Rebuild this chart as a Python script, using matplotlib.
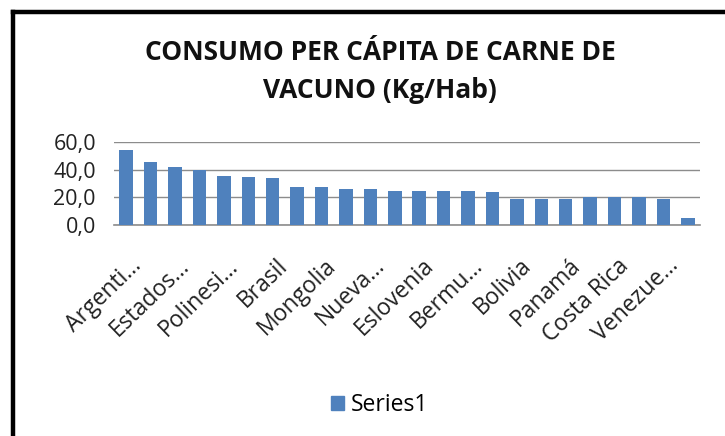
import matplotlib
matplotlib.use("Agg")
import matplotlib.pyplot as plt
from matplotlib.lines import Line2D
from matplotlib.patches import Patch
import matplotlib.transforms as mtransforms

# values (Kg per inhabitant)
consumo = [54.0, 45.5, 42.0, 40.0, 35.5, 34.6, 33.6, 27.7, 27.0, 26.0, 26.0, 24.4,
           24.4, 24.4, 24.4, 23.4, 18.8, 18.8, 18.8, 20.2, 20.2, 20.2, 18.8, 4.9]
# only every second category label is shown in the chart (truncated as in Excel)
shown_labels = ["Argenti…", "Estados…", "Polinesi…", "Brasil", "Mongolia", "Nueva…",
                "Eslovenia", "Bermu…", "Bolivia", "Panamá", "Costa Rica", "Venezue…"]
y_ticks = [0, 20, 40, 60]
titulo_1 = "CONSUMO PER CÁPITA DE CARNE DE"
titulo_2 = "VACUNO (Kg/Hab)"
serie = "Series1"

plt.rcParams['font.family'] = ['Open Sans', 'DejaVu Sans']
bar_color = "#4F81BD"

fig = plt.figure(figsize=(7.25, 4.36), dpi=100)
fig.patch.set_facecolor("white")
ax = fig.add_axes([114/725, 1 - 224.7/436, (700-114)/725, (224.7-142)/436])

x = list(range(len(consumo)))
ax.bar(x, consumo, width=0.55, color=bar_color, zorder=3)
ax.set_xlim(-0.5, len(consumo) - 0.5)
ax.set_ylim(0, 60)
ax.set_yticks(y_ticks)
ax.set_yticklabels([f"{v:.1f}".replace(".", ",") for v in y_ticks], fontsize=15.5, color="#222222")
ax.yaxis.grid(True, color="#8c8c8c", linewidth=1.0, zorder=0)
ax.tick_params(axis="y", length=0, pad=13)
ax.tick_params(axis="x", length=0, pad=21)
for side in ["top", "right", "left"]:
    ax.spines[side].set_visible(False)
ax.spines["bottom"].set_color("#8c8c8c")
ax.spines["bottom"].set_linewidth(1.2)

ax.set_xticks(x[::2])
ax.set_xticklabels(shown_labels, rotation=44, ha="right", rotation_mode="anchor",
                   fontsize=16.5, color="#222222")
offset = mtransforms.ScaledTranslation(3/100, 0, fig.dpi_scale_trans)
for lbl in ax.get_xticklabels():
    lbl.set_transform(lbl.get_transform() + offset)

fig.text(380/725, 1 - 60/436, titulo_1, ha="center", va="baseline", fontsize=19,
         fontweight="bold", color="#111111")
fig.text(380/725, 1 - 98/436, titulo_2, ha="center", va="baseline", fontsize=19,
         fontweight="bold", color="#111111")

fig.legend(handles=[Patch(color=bar_color, label=serie)], loc="center",
           bbox_to_anchor=(380/725, 1 - 405/436), frameon=False, fontsize=16.5,
           handlelength=0.57, handleheight=0.57, handletextpad=0.3)

# black frame on the left and top edges
fig.add_artist(Line2D([12.5/725, 12.5/725], [0, 1 - 12.5/436], color="black", linewidth=3.2,
                      transform=fig.transFigure, solid_capstyle="projecting"))
fig.add_artist(Line2D([12.5/725, 1], [1 - 12.5/436, 1 - 12.5/436], color="black", linewidth=3.2,
                      transform=fig.transFigure, solid_capstyle="projecting"))

fig.savefig("out.png", dpi=100)
